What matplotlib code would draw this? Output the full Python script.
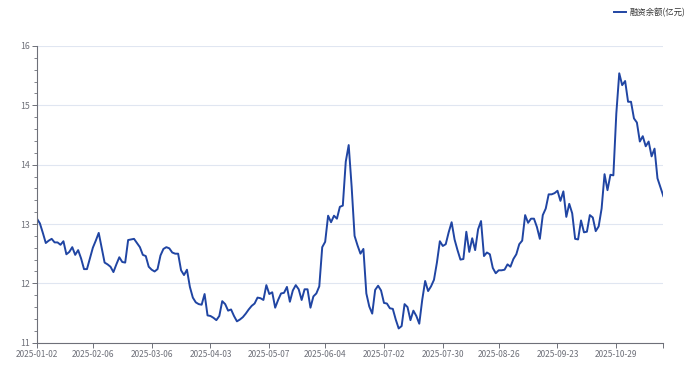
import numpy as np
import pandas as pd
import matplotlib.pyplot as plt

plt.rcParams['font.family'] = ['Noto Sans CJK SC', 'DejaVu Sans']

# 交易日 (2025, 沪深休市日剔除)
holidays = ['2025-01-28', '2025-01-29', '2025-01-30', '2025-01-31', '2025-02-03', '2025-02-04',
            '2025-04-04', '2025-05-01', '2025-05-02', '2025-05-05', '2025-06-02',
            '2025-10-01', '2025-10-02', '2025-10-03', '2025-10-06', '2025-10-07', '2025-10-08']
dates = pd.bdate_range('2025-01-02', '2025-11-20', freq='C', holidays=holidays).strftime('%Y-%m-%d').tolist()

shown_labels = ['2025-01-02', '2025-02-06', '2025-03-06', '2025-04-03', '2025-05-07', '2025-06-04',
                '2025-07-02', '2025-07-30', '2025-08-26', '2025-09-23', '2025-10-29']

# 融资余额(亿元)
balance = [
    13.09, 13.01, 12.85, 12.68, 12.72, 12.75, 12.69, 12.69, 12.65, 12.71,
    12.49, 12.53, 12.61, 12.48, 12.56, 12.42, 12.24, 12.24, 12.42, 12.60,
    12.72, 12.85, 12.60, 12.35, 12.32, 12.28, 12.19, 12.32, 12.44, 12.36,
    12.35, 12.73, 12.74, 12.75, 12.68, 12.61, 12.48, 12.46, 12.28, 12.23,
    12.20, 12.24, 12.47, 12.58, 12.61, 12.59, 12.52, 12.50, 12.50, 12.22,
    12.14, 12.23, 11.94, 11.76, 11.68, 11.65, 11.64, 11.82, 11.46, 11.45,
    11.42, 11.38, 11.45, 11.70, 11.65, 11.54, 11.56, 11.45, 11.36, 11.39,
    11.43, 11.49, 11.56, 11.62, 11.66, 11.76, 11.75, 11.72, 11.97, 11.82,
    11.85, 11.59, 11.72, 11.83, 11.84, 11.94, 11.69, 11.88, 11.97, 11.90,
    11.72, 11.90, 11.90, 11.59, 11.78, 11.83, 11.95, 12.61, 12.70, 13.14,
    13.03, 13.14, 13.09, 13.29, 13.31, 14.05, 14.33, 13.63, 12.80, 12.64,
    12.50, 12.58, 11.83, 11.61, 11.49, 11.89, 11.96, 11.88, 11.67, 11.66,
    11.58, 11.57, 11.39, 11.24, 11.28, 11.65, 11.60, 11.38, 11.54, 11.45,
    11.32, 11.72, 12.04, 11.87, 11.95, 12.06, 12.35, 12.71, 12.63, 12.66,
    12.86, 13.03, 12.74, 12.56, 12.40, 12.41, 12.87, 12.53, 12.76, 12.56,
    12.91, 13.05, 12.46, 12.52, 12.49, 12.26, 12.17, 12.22, 12.22, 12.23,
    12.32, 12.28, 12.41, 12.49, 12.66, 12.72, 13.15, 13.02, 13.09, 13.09,
    12.95, 12.75, 13.15, 13.26, 13.50, 13.50, 13.52, 13.56, 13.39, 13.55,
    13.12, 13.34, 13.18, 12.75, 12.74, 13.06, 12.86, 12.87, 13.15, 13.11,
    12.88, 12.96, 13.26, 13.84, 13.57, 13.83, 13.82, 14.86, 15.54, 15.34,
    15.41, 15.06, 15.06, 14.78, 14.71, 14.39, 14.48, 14.31, 14.39, 14.14,
    14.27, 13.77, 13.62, 13.47,
]

line_color = '#2045a3'
axis_color = '#6E7079'
grid_color = '#E0E6F1'

fig = plt.figure(figsize=(6.91, 3.70), dpi=100)
ax = fig.add_axes([0.0535, 0.0738, 0.9065, 0.8019])

x = np.arange(len(balance))
ax.plot(x, balance, color=line_color, linewidth=1.4, label='融资余额(亿元)')

ax.set_xlim(0, len(dates) - 1)
ax.set_ylim(11, 16)

ticks = [dates.index(d) for d in shown_labels] + [len(dates) - 1]
ax.set_xticks(ticks)
ax.set_xticklabels(shown_labels + [''])
ax.set_yticks(np.arange(11, 17, 1))
ax.set_yticks(np.arange(11, 16.01, 0.2), minor=True)

ax.grid(axis='y', color=grid_color, linewidth=0.8)
ax.set_axisbelow(True)

for s in ['top', 'right']:
    ax.spines[s].set_visible(False)
ax.spines['left'].set_color(axis_color)
ax.spines['bottom'].set_color(axis_color)
ax.spines['left'].set_linewidth(0.8)
ax.spines['bottom'].set_linewidth(0.8)

ax.tick_params(axis='x', colors=axis_color, labelsize=6, length=3.5, width=0.7, pad=2)
ax.tick_params(axis='y', which='major', colors=axis_color, labelsize=6.3, length=3.5, width=0.7, pad=1.5)
ax.tick_params(axis='y', which='minor', colors=axis_color, length=2, width=0.6)

fig.legend(loc='upper right', bbox_to_anchor=(1.003, 0.999), frameon=False,
           fontsize=6, handlelength=1.5, handletextpad=0.4, labelcolor='#333333')

fig.savefig('out.png', dpi=100)
